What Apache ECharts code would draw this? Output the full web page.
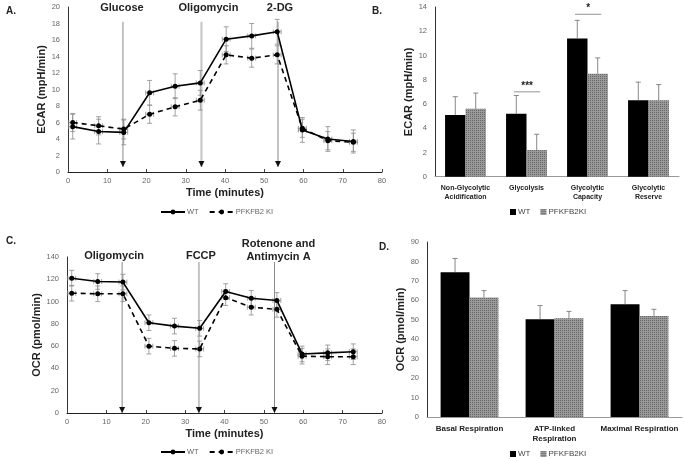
<!DOCTYPE html>
<html><head><meta charset="utf-8">
<script src="https://cdn.jsdelivr.net/npm/echarts@6/dist/echarts.min.js"></script>
<style>html,body{margin:0;padding:0;background:#fff}#c{width:685px;height:459px}</style>
</head><body><div id="c"></div>
<script>
// ---- Panel A: ECAR time course ----
const timeA = [1.2, 7.8, 14.2, 20.8, 27.3, 33.7, 40.3, 46.8, 53.3, 59.7, 66.2, 72.7];
const ecarWT = [5.5, 4.9, 4.8, 9.6, 10.4, 10.8, 16.1, 16.5, 17.0, 5.1, 4.0, 3.7];
const ecarWTErr = [1.5, 1.5, 1.5, 1.5, 1.5, 1.5, 1.5, 1.5, 1.5, 1.5, 1.5, 1.4];
const ecarKI = [6.0, 5.6, 5.2, 7.0, 7.9, 8.7, 14.2, 13.8, 14.2, 5.3, 3.8, 3.6];
const ecarKIErr = [1.1, 1.1, 1.2, 1.1, 1.1, 1.2, 1.1, 1.1, 1.1, 1.1, 1.1, 1.1];
const injA = [14, 34, 53.5];
const injALabels = ['Glucose', 'Oligomycin', '2-DG'];
const timeErr = 1.0;

// ---- Panel B: ECAR parameters ----
const catB = ['Non-Glycolytic\nAcidification', 'Glycolysis', 'Glycolytic\nCapacity', 'Glycolytic\nReserve'];
const barBWT = [5.1, 5.2, 11.4, 6.3];
const barBWTErr = [1.5, 1.5, 1.5, 1.5];
const barBKI = [5.6, 2.2, 8.5, 6.3];
const barBKIErr = [1.3, 1.3, 1.3, 1.3];
const sigB = [[1, 7.0, '***'], [2, 13.4, '*']];

// ---- Panel C: OCR time course ----
const timeC = [1.2, 7.8, 14.2, 20.8, 27.3, 33.7, 40.3, 46.8, 53.3, 59.7, 66.2, 72.7];
const ocrWT = [121, 118, 117.5, 81, 78, 76, 109, 103, 101, 53, 54, 55];
const ocrWTErr = [7, 7, 7, 7, 7, 7, 7, 7, 7, 7, 7, 7];
const ocrKI = [107.5, 107, 107, 60, 58, 57.5, 103.5, 95, 93, 51, 50.5, 50.5];
const ocrKIErr = [7, 7, 7, 7, 7, 7, 7, 7, 7, 7, 7, 7];
const injC = [14, 33.5, 52.7];
const injCLabels = ['Oligomycin', 'FCCP', 'Rotenone and\nAntimycin A'];

// ---- Panel D: OCR parameters ----
const catD = ['Basal Respiration', 'ATP-linked\nRespiration', 'Maximal Respiration'];
const barDWT = [74.5, 50.3, 58.0];
const barDWTErr = [7.0, 7.0, 7.0];
const barDKI = [61.5, 50.8, 52.0];
const barDKIErr = [3.5, 3.5, 3.4];

const FONT = 'Liberation Sans, Arial, sans-serif';
const chart = echarts.init(document.getElementById('c'), null, {renderer: 'canvas'});

function errRender(color) {
  return function (params, api) {
    const x = api.value(0), y = api.value(1), e = api.value(2), xe = api.value(3);
    const t = api.coord([x, y + e]), b = api.coord([x, y - e]);
    const l = api.coord([x - xe, y]), r = api.coord([x + xe, y]);
    const c = 2.5;
    const st = {stroke: color, lineWidth: 0.8};
    const L = (x1, y1, x2, y2) => ({type: 'line', shape: {x1, y1, x2, y2}, style: st});
    return {type: 'group', children: [
      L(t[0], t[1], b[0], b[1]), L(t[0] - c, t[1], t[0] + c, t[1]), L(b[0] - c, b[1], b[0] + c, b[1]),
      L(l[0], l[1], r[0], r[1]), L(l[0], l[1] - c, l[0], l[1] + c), L(r[0], r[1] - c, r[0], r[1] + c)
    ]};
  };
}
function injRender(params, api) {
  const x = api.value(0), top = api.value(1), light = api.value(2);
  const p1 = api.coord([x, top]), p0 = api.coord([x, 0]);
  const tipY = p0[1] - api.value(3);
  return {type: 'group', children: [
    {type: 'line', shape: {x1: p1[0], y1: p1[1], x2: p0[0], y2: tipY},
     style: {stroke: light ? '#c4c4c4' : '#8a8a8a', lineWidth: light ? 2 : 1}},
    {type: 'polygon', shape: {points: [[p0[0] - 3, tipY - 6], [p0[0] + 3, tipY - 6], [p0[0], tipY]]},
     style: {fill: '#111'}}
  ]};
}
function barErrRender(offset) {
  return function (params, api) {
    const cat = api.value(0), v = api.value(1), e = api.value(2);
    const w = api.size([1, 0])[0];
    const p = api.coord([cat, v]), q = api.coord([cat, v + e]);
    const x = p[0] + offset * w;
    const st = {stroke: '#7a7a7a', lineWidth: 0.9};
    return {type: 'group', children: [
      {type: 'line', shape: {x1: x, y1: p[1], x2: x, y2: q[1]}, style: st},
      {type: 'line', shape: {x1: x - 2.5, y1: q[1], x2: x + 2.5, y2: q[1]}, style: st}
    ]};
  };
}
function sigRender(params, api) {
  const cat = api.value(0), v = api.value(1);
  const w = api.size([1, 0])[0];
  const p = api.coord([cat, v]);
  const cx = p[0] + 0.01 * w, half = 0.215 * w;
  return {type: 'group', children: [
    {type: 'line', shape: {x1: cx - half, y1: p[1], x2: cx + half, y2: p[1]}, style: {stroke: '#777', lineWidth: 0.8}},
    {type: 'text', style: {text: sigB[params.dataIndex][2], x: cx, y: p[1] - 6, align: 'center', verticalAlign: 'middle',
      font: 'bold 10px ' + FONT, fill: '#222'}}
  ]};
}

const decal = {symbol: 'rect', symbolSize: 1, color: 'rgba(60,60,60,0.55)', dashArrayX: [1, 1], dashArrayY: [1, 1], rotation: 0};
const kiColor = '#9a9a9a';

function timeX(gi) {
  return {type: 'value', gridIndex: gi, min: 0, max: 80, interval: 10,
    axisLine: {lineStyle: {color: '#222', width: 1}}, axisTick: {show: true, inside: true, length: 3, lineStyle: {color: '#444'}},
    splitLine: {show: false}, axisLabel: {fontSize: 7.5, color: '#666', fontFamily: FONT, margin: 5},
    name: 'Time (minutes)', nameLocation: 'middle', nameGap: 15,
    nameTextStyle: {fontSize: 11, fontWeight: 'bold', color: '#222', fontFamily: FONT}};
}
function valY(gi, max, interval, name, gap) {
  return {type: 'value', gridIndex: gi, min: 0, max: max, interval: interval,
    axisLine: {show: true, lineStyle: {color: '#333', width: 1}}, axisTick: {show: false}, splitLine: {show: false},
    axisLabel: {fontSize: 7.5, color: '#666', fontFamily: FONT, margin: 8},
    name: name, nameLocation: 'middle', nameGap: gap, nameRotate: 90,
    nameTextStyle: {fontSize: 11, fontWeight: 'bold', color: '#222', fontFamily: FONT}};
}
function catX(gi, data, fs) {
  return {type: 'category', gridIndex: gi, data: data,
    axisLine: {lineStyle: {color: '#999'}}, axisTick: {show: false},
    axisLabel: {fontSize: fs, fontWeight: 'bold', color: '#222', fontFamily: FONT, margin: 7, lineHeight: fs + 2, interval: 0}};
}

const zip = (xs, ys, es, xe) => xs.map((x, i) => [x, ys[i], es[i], xe]);
const lineSeries = (name, xi, xs, ys, dashed) => ({
  type: 'line', name: name, xAxisIndex: xi, yAxisIndex: xi, data: xs.map((x, i) => [x, ys[i]]),
  symbol: 'circle', symbolSize: 5, itemStyle: {color: '#000'},
  lineStyle: {color: '#000', width: 1.6, type: dashed ? [5, 4] : 'solid'}, z: 5, animation: false
});

const legendLabels = {'barWT': 'WT', 'barKI': 'PFKFB2KI'};
const lineLegend = (top) => ({left: 155, top: top, itemWidth: 24, itemHeight: 6, itemGap: 10, data: ['WT', 'PFKFB2 KI'],
  textStyle: {fontSize: 7.5, color: '#666', fontFamily: FONT, padding: [0, 0, 0, -3]}});
const barLegend = (top) => ({left: 505, top: top, itemWidth: 6, itemHeight: 6, itemGap: 10, icon: 'rect', data: ['barWT', 'barKI'],
  formatter: n => legendLabels[n], textStyle: {fontSize: 8, color: '#444', fontFamily: FONT, padding: [0, 0, 0, -3]}});

const option = {
  animation: false,
  textStyle: {fontFamily: FONT},
  grid: [
    {left: 68, top: 7, width: 314, height: 165},
    {left: 435, top: 7, width: 244, height: 169.7},
    {left: 67, top: 257, width: 315, height: 156},
    {left: 427, top: 242, width: 255, height: 175}
  ],
  xAxis: [timeX(0), catX(1, catB, 7), timeX(2), catX(3, catD, 8)],
  yAxis: [valY(0, 20, 2, 'ECAR (mpH/min)', 10), valY(1, 14, 2, 'ECAR (mpH/min)', 12),
          valY(2, 140, 20, 'OCR (pmol/min)', 15), valY(3, 90, 10, 'OCR (pmol/min)', 8)],
  legend: [lineLegend(203), lineLegend(443), barLegend(203), barLegend(445)],
  graphic: [
    {type: 'text', left: 6, top: 6, style: {text: 'A.', font: 'bold 10px ' + FONT, fill: '#222'}},
    {type: 'text', left: 372, top: 6, style: {text: 'B.', font: 'bold 10px ' + FONT, fill: '#222'}},
    {type: 'text', left: 6, top: 236, style: {text: 'C.', font: 'bold 10px ' + FONT, fill: '#222'}},
    {type: 'text', left: 379, top: 242, style: {text: 'D.', font: 'bold 10px ' + FONT, fill: '#222'}}
  ],
  series: [
    // injection lines with labels
    {type: 'custom', xAxisIndex: 0, yAxisIndex: 0, z: 1, data: injA.map((x, i) => [x, 18.2, i === 1 ? 1 : 0, 5]),
     renderItem: function (params, api) {
       const g = injRender(params, api);
       const p = api.coord([api.value(0), 20]);
       const dx = [-1, 7, 2][params.dataIndex];
       g.children.push({type: 'text', style: {text: injALabels[params.dataIndex], x: p[0] + dx, y: p[1] + 1,
         align: 'center', verticalAlign: 'middle', font: 'bold 11px ' + FONT, fill: '#222'}});
       return g;
     }},
    {type: 'custom', xAxisIndex: 2, yAxisIndex: 2, z: 1, data: injC.map((x, i) => [x, 135.5, i === 1 ? 1 : 0, 0]),
     renderItem: function (params, api) {
       const g = injRender(params, api);
       const p = api.coord([api.value(0), 140]);
       const dx = [-8, 2, 4][params.dataIndex];
       const two = params.dataIndex === 2;
       g.children.push({type: 'text', style: {text: injCLabels[params.dataIndex], x: p[0] + dx, y: p[1] + (two ? -7 : -1),
         align: 'center', verticalAlign: 'middle', font: 'bold 11px ' + FONT, fill: '#222', lineHeight: 13}});
       return g;
     }},
    // error bars
    {type: 'custom', xAxisIndex: 0, yAxisIndex: 0, renderItem: errRender('#8c8c8c'), z: 3, data: zip(timeA, ecarWT, ecarWTErr, timeErr)},
    {type: 'custom', xAxisIndex: 0, yAxisIndex: 0, renderItem: errRender('#8c8c8c'), z: 3, data: zip(timeA, ecarKI, ecarKIErr, timeErr)},
    {type: 'custom', xAxisIndex: 2, yAxisIndex: 2, renderItem: errRender('#8c8c8c'), z: 3, data: zip(timeC, ocrWT, ocrWTErr, timeErr)},
    {type: 'custom', xAxisIndex: 2, yAxisIndex: 2, renderItem: errRender('#8c8c8c'), z: 3, data: zip(timeC, ocrKI, ocrKIErr, timeErr)},
    lineSeries('WT', 0, timeA, ecarWT, false),
    lineSeries('PFKFB2 KI', 0, timeA, ecarKI, true),
    lineSeries('WT', 2, timeC, ocrWT, false),
    lineSeries('PFKFB2 KI', 2, timeC, ocrKI, true),
    // bars B
    {type: 'bar', name: 'barWT', xAxisIndex: 1, yAxisIndex: 1, data: barBWT, barGap: '0%', barCategoryGap: '33%',
     itemStyle: {color: '#000'}},
    {type: 'bar', name: 'barKI', xAxisIndex: 1, yAxisIndex: 1, data: barBKI, barGap: '0%', barCategoryGap: '33%',
     itemStyle: {color: kiColor, decal: decal}},
    {type: 'custom', xAxisIndex: 1, yAxisIndex: 1, renderItem: barErrRender(-0.1675), z: 4, data: barBWT.map((v, i) => [i, v, barBWTErr[i]])},
    {type: 'custom', xAxisIndex: 1, yAxisIndex: 1, renderItem: barErrRender(0.1675), z: 4, data: barBKI.map((v, i) => [i, v, barBKIErr[i]])},
    {type: 'custom', xAxisIndex: 1, yAxisIndex: 1, renderItem: sigRender, z: 4, data: sigB.map(s => [s[0], s[1]])},
    // bars D
    {type: 'bar', name: 'barWT', xAxisIndex: 3, yAxisIndex: 3, data: barDWT, barGap: '0%', barCategoryGap: '32%',
     itemStyle: {color: '#000'}},
    {type: 'bar', name: 'barKI', xAxisIndex: 3, yAxisIndex: 3, data: barDKI, barGap: '0%', barCategoryGap: '32%',
     itemStyle: {color: kiColor, decal: decal}},
    {type: 'custom', xAxisIndex: 3, yAxisIndex: 3, renderItem: barErrRender(-0.17), z: 4, data: barDWT.map((v, i) => [i, v, barDWTErr[i]])},
    {type: 'custom', xAxisIndex: 3, yAxisIndex: 3, renderItem: barErrRender(0.17), z: 4, data: barDKI.map((v, i) => [i, v, barDKIErr[i]])}
  ]
};
chart.setOption(option);
</script></body></html>
